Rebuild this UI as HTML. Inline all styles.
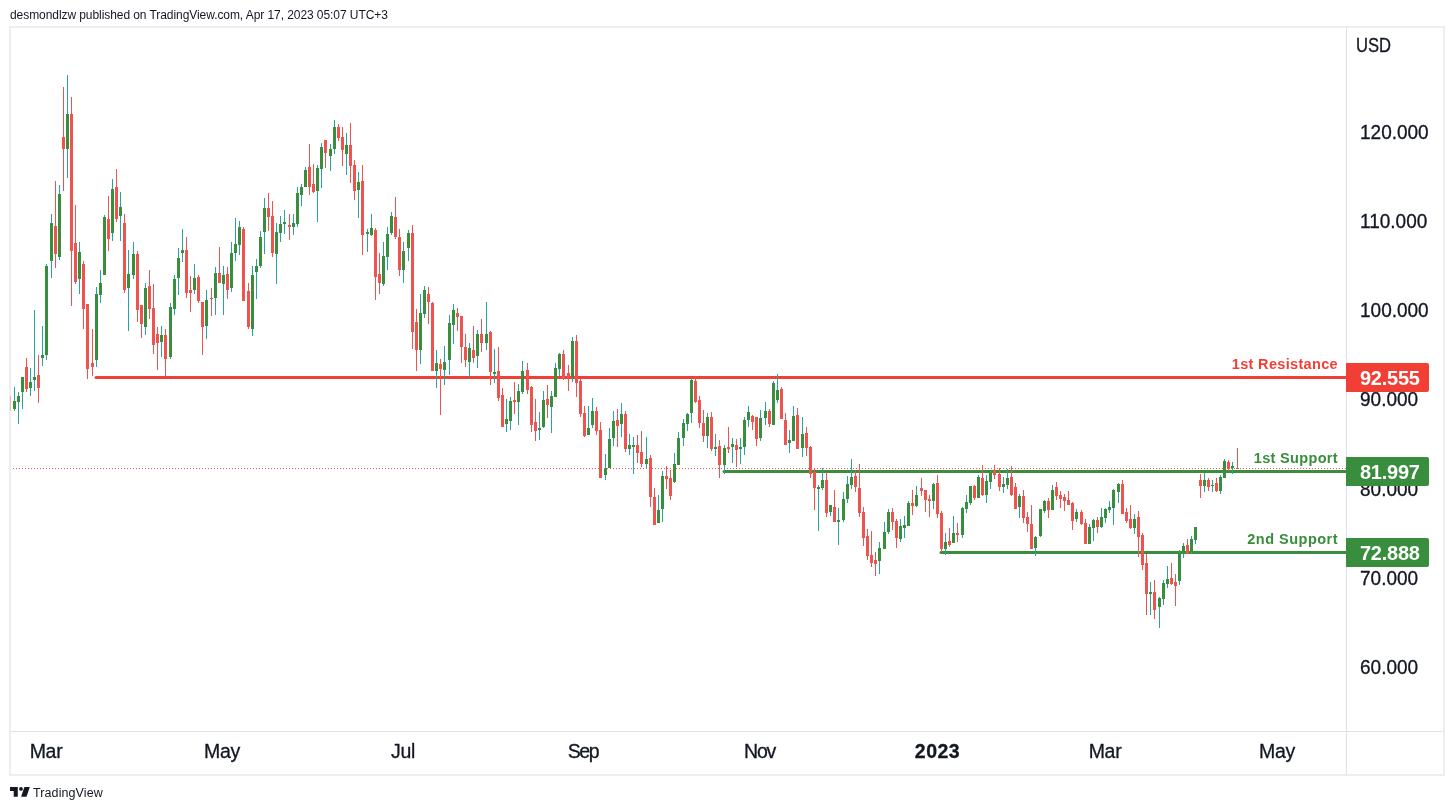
<!DOCTYPE html>
<html><head><meta charset="utf-8"><title>chart</title>
<style>
html,body{margin:0;padding:0;background:#fff;}
body{width:1454px;height:810px;position:relative;overflow:hidden;font-family:"Liberation Sans",sans-serif;color:#131722;}
.abs{position:absolute;white-space:nowrap;}
#txt{position:absolute;left:0;top:0;width:1454px;height:810px;will-change:transform;}
#hdr{will-change:transform;left:10px;top:8px;font-size:12px;letter-spacing:-0.07px;line-height:14px;color:#131722;transform-origin:0 50%;}
#frame{left:9px;top:26px;width:1432px;height:746px;border:2px solid #edeef4;}
#vax{left:1346px;top:28px;width:1px;height:746px;background:#dfe1e6;}
#hax{left:11px;top:731px;width:1432px;height:1px;background:#dfe1e6;}
.pl{-webkit-text-stroke:0.3px #131722;font-size:19px;line-height:20px;letter-spacing:0;left:1360px;transform:scaleY(1.053);transform-origin:50% 50%;margin-top:0.8px;}
.tl{-webkit-text-stroke:0.3px #131722;font-size:19.5px;line-height:20px;top:741px;transform:translateX(-50%);letter-spacing:-0.3px;}
.tag{left:1346px;width:83px;height:29px;border-radius:0 2px 2px 0;color:#fff;font-weight:bold;font-size:20px;line-height:31px;letter-spacing:-0.25px;box-sizing:border-box;padding-left:14px;overflow:hidden;}
.lab{font-weight:bold;font-size:14.5px;line-height:16px;right:116px;letter-spacing:0.33px;transform-origin:100% 50%;}
svg{position:absolute;left:0;top:0;}
#foot{will-change:transform;left:33px;top:784.5px;font-size:12.5px;letter-spacing:0.1px;line-height:16px;color:#131722;}
</style></head><body>
<div id="hdr" class="abs">desmondlzw published on TradingView.com, Apr 17, 2023 05:07 UTC+3</div>
<div id="frame" class="abs"></div>
<div id="vax" class="abs"></div><div id="hax" class="abs"></div>
<svg width="1454" height="810" viewBox="0 0 1454 810" shape-rendering="crispEdges">
<defs><clipPath id="cp"><rect x="11" y="28" width="1335" height="703"/></clipPath></defs>
<g clip-path="url(#cp)">
<line x1="96" y1="377.5" x2="1346" y2="377.5" stroke="#f23f36" stroke-width="3" stroke-linecap="round" shape-rendering="geometricPrecision"/>
<line x1="724" y1="471.5" x2="1346" y2="471.5" stroke="#388e3c" stroke-width="3" stroke-linecap="round" shape-rendering="geometricPrecision"/>
<line x1="941" y1="552.5" x2="1346" y2="552.5" stroke="#388e3c" stroke-width="3" stroke-linecap="round" shape-rendering="geometricPrecision"/>
<path d="M26 358h1v34h-1zM38 355h1v48h-1zM55 181h1v87h-1zM63 87h1v104h-1zM71 97h1v209h-1zM75 205h1v79h-1zM83 261h1v68h-1zM87 304h1v75h-1zM92 329h1v47h-1zM108 196h1v55h-1zM116 169h1v53h-1zM124 214h1v79h-1zM137 251h1v71h-1zM141 305h1v33h-1zM149 270h1v49h-1zM153 284h1v70h-1zM157 327h1v43h-1zM165 329h1v47h-1zM186 237h1v61h-1zM190 276h1v36h-1zM198 275h1v28h-1zM202 302h1v53h-1zM211 288h1v28h-1zM219 247h1v36h-1zM227 267h1v32h-1zM243 227h1v74h-1zM248 283h1v46h-1zM268 193h1v38h-1zM272 201h1v56h-1zM289 214h1v26h-1zM309 144h1v51h-1zM313 164h1v29h-1zM325 140h1v28h-1zM338 124h1v17h-1zM342 127h1v39h-1zM350 123h1v60h-1zM354 160h1v40h-1zM362 165h1v90h-1zM375 228h1v72h-1zM379 253h1v41h-1zM395 197h1v42h-1zM399 229h1v47h-1zM412 225h1v124h-1zM416 309h1v62h-1zM428 287h1v37h-1zM432 302h1v69h-1zM440 359h1v56h-1zM457 308h1v23h-1zM461 316h1v47h-1zM465 334h1v33h-1zM473 326h1v37h-1zM481 319h1v33h-1zM490 331h1v54h-1zM498 347h1v54h-1zM502 388h1v39h-1zM514 382h1v32h-1zM527 363h1v31h-1zM531 386h1v46h-1zM535 399h1v42h-1zM547 385h1v33h-1zM563 350h1v30h-1zM568 365h1v26h-1zM576 335h1v62h-1zM580 379h1v38h-1zM584 406h1v31h-1zM596 407h1v28h-1zM600 422h1v56h-1zM617 409h1v38h-1zM625 411h1v41h-1zM637 435h1v28h-1zM641 431h1v36h-1zM650 455h1v52h-1zM654 488h1v37h-1zM666 466h1v23h-1zM670 470h1v30h-1zM695 377h1v26h-1zM699 396h1v32h-1zM703 410h1v32h-1zM711 412h1v39h-1zM719 440h1v38h-1zM728 427h1v26h-1zM736 439h1v28h-1zM752 415h1v15h-1zM756 417h1v29h-1zM769 409h1v18h-1zM781 387h1v32h-1zM785 413h1v32h-1zM797 408h1v41h-1zM806 427h1v29h-1zM810 446h1v32h-1zM814 469h1v41h-1zM826 472h1v45h-1zM834 490h1v32h-1zM855 470h1v22h-1zM859 464h1v53h-1zM863 507h1v39h-1zM867 529h1v31h-1zM871 531h1v36h-1zM875 552h1v24h-1zM892 508h1v22h-1zM896 519h1v29h-1zM912 490h1v25h-1zM921 478h1v18h-1zM925 490h1v22h-1zM929 495h1v22h-1zM937 475h1v43h-1zM941 511h1v41h-1zM949 528h1v19h-1zM957 523h1v19h-1zM974 485h1v15h-1zM982 465h1v31h-1zM994 465h1v14h-1zM999 468h1v23h-1zM1011 466h1v30h-1zM1015 483h1v26h-1zM1023 490h1v33h-1zM1027 512h1v20h-1zM1031 505h1v44h-1zM1048 498h1v20h-1zM1056 482h1v18h-1zM1060 491h1v17h-1zM1064 494h1v17h-1zM1068 491h1v14h-1zM1072 502h1v28h-1zM1081 510h1v15h-1zM1085 519h1v25h-1zM1097 517h1v16h-1zM1122 480h1v34h-1zM1126 508h1v15h-1zM1130 505h1v24h-1zM1138 511h1v46h-1zM1142 533h1v37h-1zM1146 554h1v61h-1zM1154 580h1v39h-1zM1171 563h1v22h-1zM1175 574h1v32h-1zM1187 539h1v15h-1zM1200 474h1v24h-1zM1208 478h1v13h-1zM1216 478h1v14h-1zM1228 460h1v11h-1zM1237 448h1v21h-1z" fill="#ef5350"/>
<path d="M14 387h1v24h-1zM18 392h1v32h-1zM22 377h1v32h-1zM30 368h1v28h-1zM34 310h1v81h-1zM42 326h1v40h-1zM46 264h1v96h-1zM51 214h1v64h-1zM59 185h1v75h-1zM67 75h1v103h-1zM79 242h1v52h-1zM96 287h1v80h-1zM100 270h1v33h-1zM104 215h1v60h-1zM112 179h1v62h-1zM120 192h1v49h-1zM128 250h1v81h-1zM133 242h1v37h-1zM145 283h1v52h-1zM161 326h1v31h-1zM170 303h1v56h-1zM174 275h1v40h-1zM178 248h1v47h-1zM182 229h1v33h-1zM194 264h1v30h-1zM206 290h1v49h-1zM215 267h1v48h-1zM223 266h1v49h-1zM231 242h1v50h-1zM235 218h1v43h-1zM239 221h1v34h-1zM252 266h1v70h-1zM256 259h1v40h-1zM260 231h1v37h-1zM264 198h1v56h-1zM276 223h1v61h-1zM280 216h1v26h-1zM284 210h1v24h-1zM293 214h1v21h-1zM297 187h1v40h-1zM301 184h1v22h-1zM305 167h1v20h-1zM317 165h1v57h-1zM321 143h1v45h-1zM330 144h1v27h-1zM334 120h1v34h-1zM346 133h1v42h-1zM358 172h1v46h-1zM367 229h1v23h-1zM371 214h1v22h-1zM383 242h1v44h-1zM387 227h1v43h-1zM391 212h1v23h-1zM403 242h1v41h-1zM408 230h1v31h-1zM420 294h1v70h-1zM424 286h1v32h-1zM436 350h1v38h-1zM444 346h1v39h-1zM449 315h1v60h-1zM453 304h1v40h-1zM469 343h1v35h-1zM477 330h1v38h-1zM486 302h1v48h-1zM494 349h1v34h-1zM506 399h1v33h-1zM510 397h1v33h-1zM518 384h1v41h-1zM522 361h1v33h-1zM539 412h1v28h-1zM543 391h1v37h-1zM551 391h1v42h-1zM555 363h1v34h-1zM559 353h1v23h-1zM572 337h1v45h-1zM588 406h1v29h-1zM592 398h1v30h-1zM605 454h1v26h-1zM609 428h1v40h-1zM613 411h1v35h-1zM621 403h1v34h-1zM629 434h1v21h-1zM633 437h1v37h-1zM646 437h1v32h-1zM658 495h1v28h-1zM662 471h1v51h-1zM674 453h1v30h-1zM678 432h1v33h-1zM683 419h1v27h-1zM687 413h1v18h-1zM691 379h1v44h-1zM707 413h1v35h-1zM715 434h1v22h-1zM724 445h1v29h-1zM732 438h1v25h-1zM740 438h1v26h-1zM744 417h1v38h-1zM748 406h1v21h-1zM760 410h1v31h-1zM765 402h1v23h-1zM773 381h1v44h-1zM777 374h1v29h-1zM789 430h1v23h-1zM793 406h1v35h-1zM802 417h1v40h-1zM818 485h1v46h-1zM822 468h1v22h-1zM830 505h1v11h-1zM838 508h1v37h-1zM843 492h1v30h-1zM847 476h1v27h-1zM851 459h1v30h-1zM879 542h1v32h-1zM884 522h1v27h-1zM888 509h1v25h-1zM900 519h1v23h-1zM904 516h1v22h-1zM908 501h1v25h-1zM916 486h1v21h-1zM933 483h1v26h-1zM945 533h1v22h-1zM953 516h1v27h-1zM962 507h1v31h-1zM966 495h1v18h-1zM970 486h1v19h-1zM978 475h1v23h-1zM986 475h1v28h-1zM990 471h1v18h-1zM1003 477h1v16h-1zM1007 469h1v20h-1zM1019 494h1v24h-1zM1035 536h1v20h-1zM1040 509h1v28h-1zM1044 500h1v13h-1zM1052 485h1v25h-1zM1076 509h1v13h-1zM1089 524h1v20h-1zM1093 519h1v22h-1zM1101 508h1v20h-1zM1105 508h1v15h-1zM1109 501h1v12h-1zM1113 489h1v36h-1zM1118 483h1v20h-1zM1134 514h1v20h-1zM1150 582h1v33h-1zM1159 597h1v31h-1zM1163 580h1v25h-1zM1167 566h1v22h-1zM1179 550h1v35h-1zM1183 543h1v15h-1zM1191 536h1v18h-1zM1195 527h1v17h-1zM1204 473h1v19h-1zM1212 480h1v12h-1zM1220 475h1v19h-1zM1224 459h1v19h-1zM1232 462h1v12h-1z" fill="#26a69a"/>
<path d="M25 367h3v22h-3zM37 375h3v13h-3zM54 226h3v28h-3zM62 137h3v12h-3zM70 114h3v137h-3zM74 243h3v39h-3zM82 264h3v45h-3zM86 304h3v65h-3zM91 363h3v4h-3zM107 219h3v20h-3zM115 187h3v32h-3zM123 223h3v67h-3zM136 254h3v56h-3zM140 305h3v19h-3zM148 286h3v23h-3zM152 308h3v37h-3zM156 334h3v9h-3zM164 335h3v24h-3zM185 250h3v43h-3zM189 290h3v3h-3zM197 277h3v24h-3zM201 302h3v25h-3zM210 298h3v1h-3zM218 273h3v10h-3zM226 274h3v16h-3zM242 229h3v72h-3zM247 291h3v36h-3zM267 208h3v9h-3zM271 216h3v37h-3zM288 225h3v2h-3zM308 167h3v20h-3zM312 184h3v8h-3zM324 140h3v13h-3zM337 127h3v11h-3zM341 137h3v13h-3zM349 145h3v21h-3zM353 165h3v26h-3zM361 181h3v54h-3zM374 230h3v47h-3zM378 274h3v9h-3zM394 217h3v20h-3zM398 237h3v33h-3zM411 233h3v99h-3zM415 322h3v28h-3zM427 294h3v8h-3zM431 303h3v68h-3zM439 364h3v5h-3zM456 313h3v4h-3zM460 316h3v31h-3zM464 347h3v13h-3zM472 350h3v8h-3zM480 334h3v9h-3zM489 332h3v40h-3zM497 371h3v27h-3zM501 395h3v32h-3zM513 400h3v2h-3zM526 370h3v20h-3zM530 387h3v38h-3zM534 422h3v9h-3zM546 399h3v6h-3zM562 354h3v25h-3zM567 373h3v5h-3zM575 341h3v42h-3zM579 381h3v33h-3zM583 413h3v23h-3zM595 411h3v20h-3zM599 430h3v48h-3zM616 420h3v6h-3zM624 414h3v35h-3zM636 445h3v8h-3zM640 452h3v12h-3zM649 458h3v39h-3zM653 497h3v28h-3zM665 476h3v3h-3zM669 478h3v18h-3zM694 381h3v21h-3zM698 400h3v23h-3zM702 423h3v13h-3zM710 417h3v32h-3zM718 446h3v19h-3zM727 447h3v2h-3zM735 445h3v5h-3zM751 416h3v6h-3zM755 417h3v22h-3zM768 411h3v13h-3zM780 389h3v30h-3zM784 420h3v25h-3zM796 415h3v34h-3zM805 433h3v15h-3zM809 447h3v27h-3zM813 472h3v16h-3zM825 480h3v33h-3zM833 507h3v15h-3zM854 476h3v11h-3zM858 488h3v25h-3zM862 512h3v26h-3zM866 536h3v20h-3zM870 555h3v8h-3zM874 560h3v4h-3zM891 512h3v10h-3zM895 521h3v17h-3zM911 503h3v3h-3zM920 488h3v3h-3zM924 490h3v10h-3zM928 499h3v2h-3zM936 483h3v31h-3zM940 513h3v36h-3zM948 541h3v4h-3zM956 533h3v2h-3zM973 486h3v12h-3zM981 478h3v17h-3zM993 471h3v4h-3zM998 474h3v13h-3zM1010 477h3v18h-3zM1014 487h3v22h-3zM1022 496h3v22h-3zM1026 517h3v7h-3zM1030 524h3v25h-3zM1047 501h3v9h-3zM1055 487h3v9h-3zM1059 495h3v4h-3zM1063 497h3v4h-3zM1067 500h3v5h-3zM1071 503h3v18h-3zM1080 512h3v12h-3zM1084 523h3v21h-3zM1096 520h3v7h-3zM1121 484h3v30h-3zM1125 512h3v9h-3zM1129 519h3v9h-3zM1137 517h3v20h-3zM1141 535h3v30h-3zM1145 563h3v31h-3zM1153 592h3v18h-3zM1170 578h3v6h-3zM1174 582h3v4h-3zM1186 545h3v9h-3zM1199 480h3v6h-3zM1207 480h3v7h-3zM1215 483h3v8h-3zM1227 462h3v7h-3zM1236 468h3v1h-3z" fill="#ef5350"/>
<path d="M13 401h3v8h-3zM17 396h3v6h-3zM21 377h3v15h-3zM29 382h3v6h-3zM33 377h3v3h-3zM41 355h3v3h-3zM45 266h3v89h-3zM50 223h3v38h-3zM58 194h3v63h-3zM66 114h3v35h-3zM78 252h3v27h-3zM95 294h3v66h-3zM99 283h3v12h-3zM103 217h3v58h-3zM111 189h3v44h-3zM119 207h3v9h-3zM127 274h3v14h-3zM132 254h3v21h-3zM144 288h3v39h-3zM160 335h3v7h-3zM169 307h3v50h-3zM173 279h3v30h-3zM177 258h3v20h-3zM181 250h3v3h-3zM193 278h3v12h-3zM205 300h3v26h-3zM214 273h3v25h-3zM222 275h3v9h-3zM230 253h3v35h-3zM234 244h3v9h-3zM238 227h3v18h-3zM251 275h3v54h-3zM255 266h3v6h-3zM259 237h3v29h-3zM263 208h3v24h-3zM275 232h3v22h-3zM279 224h3v9h-3zM283 222h3v2h-3zM292 223h3v4h-3zM296 193h3v31h-3zM300 187h3v8h-3zM304 170h3v17h-3zM316 168h3v23h-3zM320 147h3v22h-3zM329 149h3v7h-3zM333 127h3v22h-3zM345 145h3v9h-3zM357 182h3v8h-3zM366 232h3v2h-3zM370 228h3v7h-3zM382 256h3v28h-3zM386 234h3v23h-3zM390 216h3v17h-3zM402 251h3v19h-3zM407 233h3v15h-3zM419 313h3v37h-3zM423 290h3v24h-3zM435 363h3v8h-3zM443 362h3v8h-3zM448 323h3v37h-3zM452 310h3v15h-3zM468 348h3v14h-3zM476 334h3v22h-3zM485 334h3v9h-3zM493 372h3v2h-3zM505 419h3v5h-3zM509 401h3v20h-3zM517 391h3v11h-3zM521 371h3v21h-3zM538 428h3v2h-3zM542 400h3v27h-3zM550 396h3v11h-3zM554 368h3v29h-3zM558 354h3v15h-3zM571 341h3v36h-3zM587 428h3v7h-3zM591 411h3v14h-3zM604 468h3v7h-3zM608 439h3v29h-3zM612 421h3v17h-3zM620 414h3v10h-3zM628 445h3v4h-3zM632 445h3v2h-3zM645 459h3v5h-3zM657 510h3v13h-3zM661 476h3v33h-3zM673 464h3v18h-3zM677 438h3v27h-3zM682 423h3v15h-3zM686 414h3v10h-3zM690 380h3v33h-3zM706 417h3v19h-3zM714 447h3v2h-3zM723 448h3v17h-3zM731 444h3v3h-3zM739 447h3v2h-3zM743 420h3v27h-3zM747 412h3v8h-3zM759 418h3v20h-3zM764 411h3v7h-3zM772 383h3v42h-3zM776 390h3v10h-3zM788 440h3v3h-3zM792 416h3v25h-3zM801 434h3v14h-3zM817 487h3v2h-3zM821 480h3v8h-3zM829 505h3v7h-3zM837 520h3v2h-3zM842 499h3v21h-3zM846 484h3v15h-3zM850 477h3v8h-3zM878 548h3v13h-3zM883 532h3v17h-3zM887 512h3v20h-3zM899 526h3v13h-3zM903 525h3v3h-3zM907 503h3v23h-3zM915 495h3v11h-3zM932 484h3v17h-3zM944 542h3v7h-3zM952 533h3v10h-3zM961 508h3v27h-3zM965 502h3v7h-3zM969 486h3v17h-3zM977 477h3v21h-3zM985 481h3v14h-3zM989 472h3v10h-3zM1002 484h3v3h-3zM1006 478h3v7h-3zM1018 496h3v11h-3zM1034 537h3v11h-3zM1039 509h3v27h-3zM1043 501h3v10h-3zM1051 490h3v20h-3zM1075 512h3v7h-3zM1088 527h3v17h-3zM1092 520h3v8h-3zM1100 517h3v10h-3zM1104 509h3v9h-3zM1108 507h3v3h-3zM1112 490h3v18h-3zM1117 484h3v8h-3zM1133 519h3v9h-3zM1149 592h3v2h-3zM1158 598h3v9h-3zM1162 583h3v16h-3zM1166 579h3v5h-3zM1178 553h3v28h-3zM1182 546h3v8h-3zM1190 539h3v13h-3zM1194 527h3v13h-3zM1203 480h3v6h-3zM1211 485h3v1h-3zM1219 477h3v14h-3zM1223 461h3v17h-3zM1231 466h3v2h-3z" fill="#388e3c"/>
<line x1="10" y1="468.5" x2="1346" y2="468.5" stroke="#ef5350" stroke-width="1" stroke-dasharray="1 2" stroke-dashoffset="0"/>
</g>
<rect x="10" y="396" width="1" height="15" fill="#f3b3b2"/>
</svg>
<div id="txt">
<div class="abs pl" style="top:35px;left:1356px;font-size:20px;letter-spacing:0;margin-top:0;transform:scaleX(0.83);transform-origin:0 50%;">USD</div>
<div class="abs pl" style="top:122px;">120.000</div>
<div class="abs pl" style="top:211px;">110.000</div>
<div class="abs pl" style="top:300px;">100.000</div>
<div class="abs pl" style="top:389.5px;">90.000</div>
<div class="abs pl" style="top:479px;">80.000</div>
<div class="abs pl" style="top:568px;">70.000</div>
<div class="abs pl" style="top:657px;">60.000</div>
<div class="abs tag" style="top:363px;background:#f23f36;">92.555</div>
<div class="abs tag" style="top:457px;background:#388e3c;">81.997</div>
<div class="abs tag" style="top:538px;background:#388e3c;">72.888</div>
<div class="abs lab" style="top:356px;color:#f23f36;">1st Resistance</div>
<div class="abs lab" style="top:450px;color:#388e3c;">1st Support</div>
<div class="abs lab" style="top:531px;color:#388e3c;letter-spacing:0.48px;">2nd Support</div>
<div class="abs tl" style="left:46px;">Mar</div>
<div class="abs tl" style="left:222px;">May</div>
<div class="abs tl" style="left:403px;">Jul</div>
<div class="abs tl" style="left:583px;letter-spacing:-1.4px;">Sep</div>
<div class="abs tl" style="left:759.5px;letter-spacing:-1.3px;">Nov</div>
<div class="abs tl" style="left:937.5px;font-weight:bold;letter-spacing:0.5px;">2023</div>
<div class="abs tl" style="left:1105px;">Mar</div>
<div class="abs tl" style="left:1277px;">May</div>
</div>
<svg width="20" height="10" viewBox="0 0 20 10" style="left:10px;top:787px;"><path fill="#131722" d="M0 0H7.8V9.8H3.7V3.9H0ZM14.4 0H19.8L16.5 9.8H11.1Z"/><circle cx="11" cy="1.9" r="1.85" fill="#131722"/></svg>
<div id="foot" class="abs">TradingView</div>
</body></html>
